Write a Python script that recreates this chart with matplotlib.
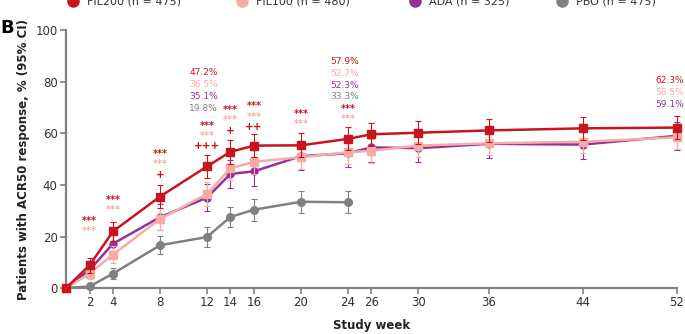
import matplotlib.pyplot as plt
from matplotlib.lines import Line2D

# study weeks and response rates (%)
weeks = [0, 2, 4, 8, 12, 14, 16, 20, 24, 26, 30, 36, 44, 52]
weeks_pbo = [0, 2, 4, 8, 12, 14, 16, 20, 24]
tick_weeks = [2, 4, 8, 12, 14, 16, 20, 24, 26, 30, 36, 44, 52]

fil200 = [0, 8.8, 22.0, 35.5, 47.2, 52.9, 55.3, 55.4, 57.9, 59.7, 60.3, 61.2, 62.0, 62.3]
fil100 = [0, 5.6, 13.0, 26.8, 36.5, 46.5, 49.0, 50.8, 52.7, 53.3, 55.3, 56.2, 56.8, 58.5]
ada = [0, 7.0, 17.2, 27.5, 35.1, 44.3, 45.3, 51.2, 52.3, 54.6, 54.3, 56.0, 55.7, 59.1]
pbo = [0, 0.6, 5.6, 16.6, 19.8, 27.6, 30.4, 33.5, 33.3]

# 95% CI half widths
fil200_err = [0, 2.8, 3.8, 4.4, 4.6, 4.6, 4.6, 4.6, 4.5, 4.5, 4.5, 4.5, 4.5, 4.5]
fil100_err = [0, 2.2, 3.2, 4.2, 4.5, 4.6, 4.6, 4.6, 4.6, 4.6, 4.6, 4.5, 4.5, 4.5]
ada_err = [0, 2.8, 4.2, 5.0, 5.3, 5.5, 5.5, 5.5, 5.5, 5.5, 5.5, 5.5, 5.5, 5.4]
pbo_err = [0, 0.8, 2.2, 3.5, 3.7, 4.0, 4.2, 4.3, 4.3]

labels = ['FIL200 (n = 475)', 'FIL100 (n = 480)', 'ADA (n = 325)', 'PBO (n = 475)']
colors = ['#c8141e', '#f6aca6', '#96309a', '#808080']

# significance markers: FIL200 vs PBO, FIL100 vs PBO, FIL200 vs ADA
sig_weeks = [2, 4, 8, 12, 14, 16, 20, 24]
sig_fil200 = ['***'] * 8
sig_fil100 = ['***'] * 8
sig_vs_ada = ['', '', '+', '+++', '+', '++', '', '']
sig_y = [26, 34, 52, 63, 69, 70.5, 67.5, 69.5]

# value callouts
callout_weeks = [12, 24, 52]
callout_y = [83.5, 88, 80.5]
callout_fil200 = ['47.2%', '57.9%', '62.3%']
callout_fil100 = ['36.5%', '52.7%', '58.5%']
callout_ada = ['35.1%', '52.3%', '59.1%']
callout_pbo = ['19.8%', '33.3%', '']

fig = plt.figure(figsize=(6.85, 3.34), dpi=100)
ax = fig.add_axes([0.0964, 0.1377, 0.8916, 0.771])

series = [(weeks, fil200, fil200_err, 's', 5.5),
          (weeks, fil100, fil100_err, 's', 5.5),
          (weeks, ada, ada_err, 'o', 5),
          (weeks_pbo, pbo, pbo_err, 'o', 5.5)]
for i in [3, 2, 1, 0]:
    x, y, e, m, ms = series[i]
    ax.errorbar(x, y, yerr=e, color=colors[i], marker=m, markersize=ms, lw=1.8,
                elinewidth=0.8, capsize=2.5, capthick=0.8, clip_on=False, zorder=3 + (3 - i))

# significance text
for w, a, b, c, y in zip(sig_weeks, sig_fil200, sig_fil100, sig_vs_ada, sig_y):
    ax.text(w, y, a, color=colors[0], fontsize=7, ha='center', va='center', fontweight='bold')
    ax.text(w, y - 3.9, b, color=colors[1], fontsize=7, ha='center', va='center', fontweight='bold')
    if c:
        ax.text(w, y - 8.0, c, color=colors[0], fontsize=7.5, ha='center', va='center', fontweight='bold')

# percentage callouts
for w, y, a, b, c, d in zip(callout_weeks, callout_y, callout_fil200, callout_fil100,
                            callout_ada, callout_pbo):
    xw = w - 0.6 if w == 52 else w - 0.3
    for k, (t, col) in enumerate(zip([a, b, c, d], colors)):
        if t:
            ax.text(xw, y - k * 4.6, t, color=col, fontsize=6.5, ha='center', va='center',
                    clip_on=False)

ax.set_xlim(0, 52)
ax.set_ylim(0, 100)
ax.set_xticks(tick_weeks)
ax.set_yticks([0, 20, 40, 60, 80, 100])
ax.tick_params(axis='both', colors='#808080', labelcolor='#333333', labelsize=8.5,
               length=4, width=1.2, pad=2)
for s in ['top', 'right']:
    ax.spines[s].set_visible(False)
for s in ['left', 'bottom']:
    ax.spines[s].set_color('#808080')
    ax.spines[s].set_linewidth(1.6)

ax.set_xlabel('Study week', fontsize=8.5, fontweight='bold', color='#222222', labelpad=7)
ax.set_ylabel('Patients with ACR50 response, % (95% CI)', fontsize=8.5, fontweight='bold',
              color='#222222', labelpad=4)

# panel letter
fig.text(0.001, 0.915, 'B', fontsize=13, fontweight='bold', va='center', ha='left')

# legend row along the top edge (cut off as in the source figure)
legend_x = [73, 242, 415, 562]
for px, lab, c in zip(legend_x, labels, colors):
    fig.add_artist(Line2D([px / 685], [0.997], transform=fig.transFigure, color=c,
                          marker='o', markersize=8, lw=0))
    fig.text((px + 14) / 685, 0.997, lab, fontsize=8, color='#333333', va='center', ha='left')

fig.savefig('out.png', dpi=100)
